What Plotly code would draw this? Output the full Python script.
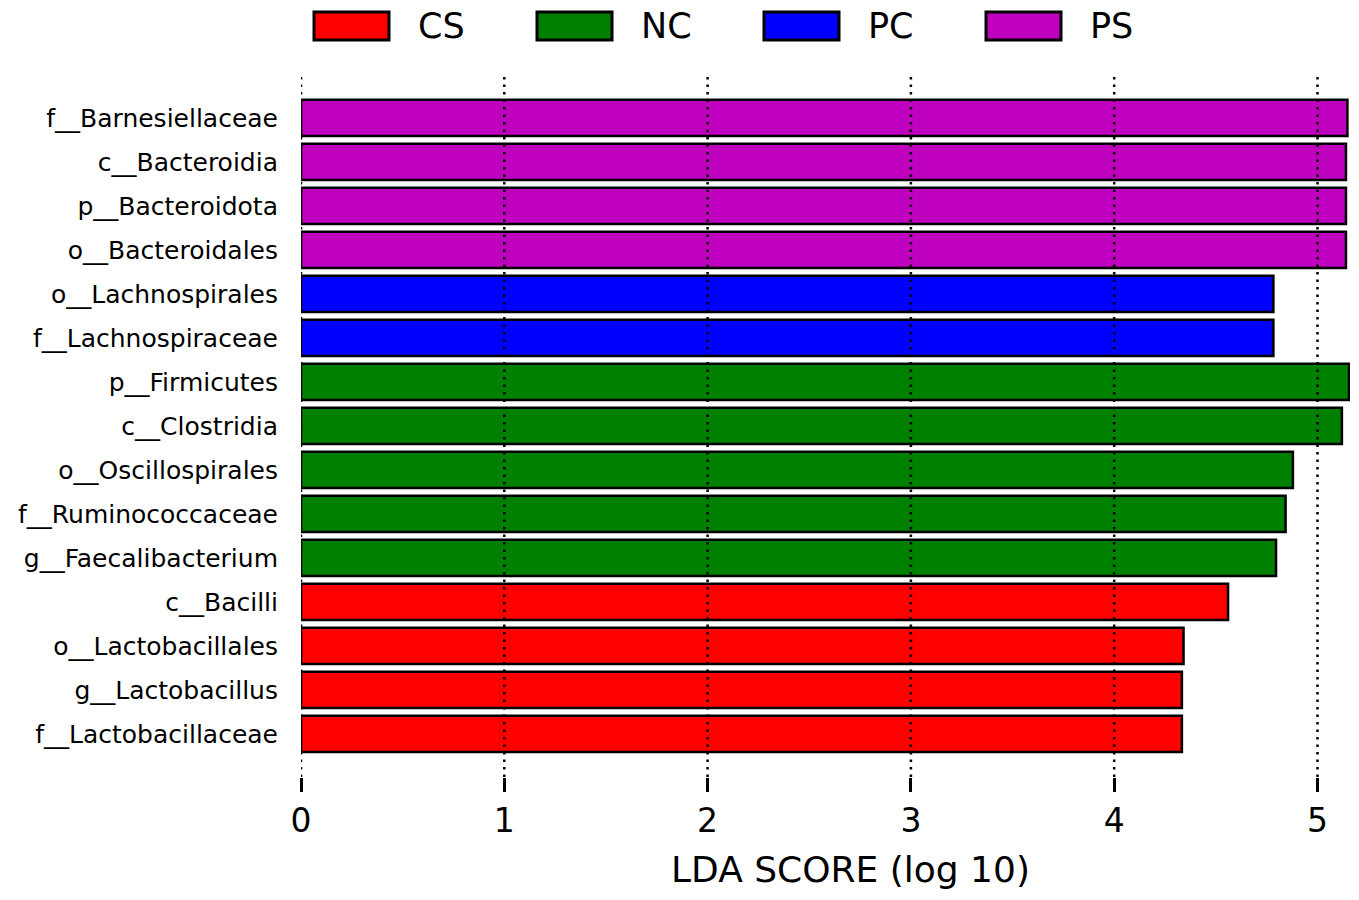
import plotly.graph_objects as go

# LEfSe LDA scores, top to bottom as drawn
taxa = ["f__Barnesiellaceae", "c__Bacteroidia", "p__Bacteroidota", "o__Bacteroidales",
        "o__Lachnospirales", "f__Lachnospiraceae",
        "p__Firmicutes", "c__Clostridia", "o__Oscillospirales", "f__Ruminococcaceae",
        "g__Faecalibacterium",
        "c__Bacilli", "o__Lactobacillales", "g__Lactobacillus", "f__Lactobacillaceae"]
lda = [5.147, 5.140, 5.140, 5.140,
       4.783, 4.783,
       5.155, 5.120, 4.879, 4.843, 4.796,
       4.560, 4.341, 4.333, 4.333]
group = ["PS", "PS", "PS", "PS",
         "PC", "PC",
         "NC", "NC", "NC", "NC", "NC",
         "CS", "CS", "CS", "CS"]

groups = ["CS", "NC", "PC", "PS"]
colors = {"CS": "#FF0000", "NC": "#008000", "PC": "#0000FF", "PS": "#BF00BF"}
xticks = [0, 1, 2, 3, 4, 5]

# page body has an 8px margin, so work in page pixels minus OFF
OFF = 8
W, H = 1359 - OFF, 900 - OFF
ML, MR, MT, MB = 301 - OFF, 9, 73 - OFF, 123
pw, ph = W - ML - MR, H - MT - MB

fig = go.Figure()
for g in groups:
    ys = [t for t, gg in zip(taxa, group) if gg == g]
    xs = [v for v, gg in zip(lda, group) if gg == g]
    fig.add_trace(go.Bar(
        x=xs, y=ys, orientation="h", width=0.82,
        marker=dict(color=colors[g], line=dict(color="black", width=2.5)),
        name=g, showlegend=False,
    ))

# dotted vertical grid drawn above the bars
for t in xticks:
    fig.add_shape(type="line", xref="x", yref="paper", x0=t, x1=t, y0=0, y1=1,
                  line=dict(color="black", width=2.5, dash="2.5px,5px"), layer="above")

# legend row of wide boxes (positions given in page pixels)
def px_x(p):
    return (p - OFF - ML) / pw

def px_y(p):
    return (H - MB - (p - OFF)) / ph

box_left = [314, 537, 764, 986]
for g, bx in zip(groups, box_left):
    fig.add_shape(type="rect", xref="paper", yref="paper",
                  x0=px_x(bx), x1=px_x(bx + 75), y0=px_y(40), y1=px_y(12),
                  fillcolor=colors[g], line=dict(color="black", width=3))
    fig.add_annotation(xref="paper", yref="paper", x=px_x(bx + 102), y=px_y(26),
                       text=g, showarrow=False, xanchor="left", yanchor="middle",
                       font=dict(size=35, color="black"))

fig.add_annotation(xref="paper", yref="paper", x=px_x(850), y=px_y(869),
                   text="LDA SCORE (log 10)", showarrow=False,
                   xanchor="center", yanchor="middle",
                   font=dict(size=36, color="black"))

fig.update_layout(
    width=W, height=H,
    margin=dict(l=ML, r=MR, t=MT, b=MB),
    plot_bgcolor="white", paper_bgcolor="white",
    barmode="overlay",
    font=dict(family="DejaVu Sans", color="black"),
    xaxis=dict(range=[0, pw / 203.3], tickvals=xticks, showgrid=False,
               zeroline=False, showline=False, ticks="outside", ticklen=14,
               tickwidth=2.5, tickcolor="black", tickfont=dict(size=33)),
    yaxis=dict(categoryorder="array", categoryarray=taxa, range=[14.98, -1.02],
               showgrid=False, zeroline=False, showline=False,
               tickfont=dict(size=25), ticklabelstandoff=22),
)

fig.write_html("out.html")
